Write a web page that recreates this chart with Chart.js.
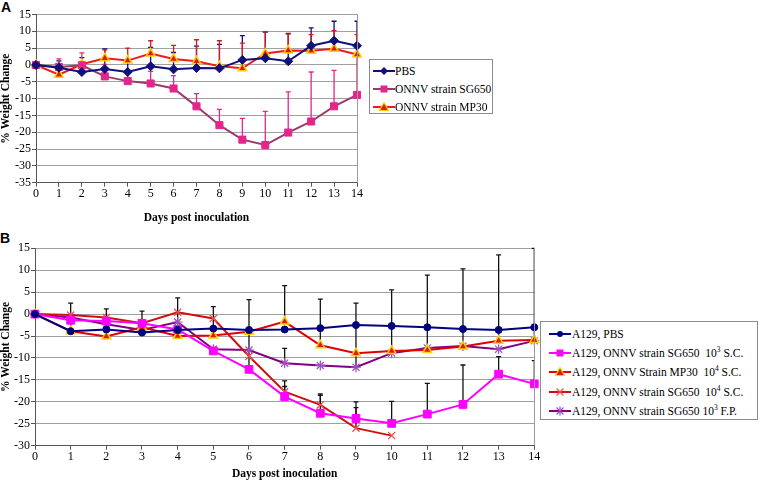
<!DOCTYPE html>
<html><head><meta charset="utf-8">
<script src="https://cdn.jsdelivr.net/npm/chart.js@4.4.1/dist/chart.umd.min.js"></script>
<style>
html,body{margin:0;padding:0;background:#fff;width:759px;height:481px;overflow:hidden;position:relative;font-family:'Liberation Serif','Times New Roman',serif;}
canvas{position:absolute;}
.panel{position:absolute;font-family:'Liberation Sans',Arial,sans-serif;font-weight:bold;font-size:14px;line-height:14px;color:#000;}
.legend{position:absolute;border:1px solid #8c8c8c;background:#fff;box-sizing:border-box;}
.row{position:absolute;height:18px;line-height:18px;white-space:nowrap;font-size:11.5px;color:#000;}
.row svg{position:absolute;top:4px;}
.row span.t{position:absolute;}
sup{font-size:7.5px;vertical-align:5px;line-height:0;}
</style></head><body>
<div class="panel" style="left:1px;top:0px;">A</div>
<div class="panel" style="left:0px;top:231px;">B</div>
<canvas id="cA" width="370" height="225" style="left:0;top:0;"></canvas>
<canvas id="cB" width="545" height="253" style="left:0;top:228px;"></canvas>
<div id="legA" class="legend" style="left:369px;top:59px;width:124px;height:55px;"></div>
<div id="legB" class="legend" style="left:540px;top:321px;width:218px;height:99px;"></div>
<script>
// ---------- DATA ----------
const days = ['0','1','2','3','4','5','6','7','8','9','10','11','12','13','14'];
const yTicksA = [15,10,5,0,-5,-10,-15,-20,-25,-30,-35];
const yTicksB = [15,10,5,0,-5,-10,-15,-20,-25,-30];

// Panel A
const namesA = ['PBS','ONNV strain SG650','ONNV strain MP30'];
const pbsA     = [0,-0.8,-2.1,-1.2,-2.1,-0.4,-1.3,-0.9,-1.0,1.5,2.0,1.1,5.7,7.2,5.7];
const pbsAErr  = [null,2.0,4.3,6.0,3.0,5.6,5.0,6.5,7.1,7.2,7.8,8.3,5.3,5.8,7.3];
const sg650A   = [0,-0.6,-0.1,-3.4,-4.8,-5.5,-7.0,-12.3,-17.9,-22.2,-23.8,-20.1,-16.8,-12.3,-8.9];
const sg650AErr= [null,2.4,3.7,3.6,2.8,3.6,3.8,3.8,4.7,6.3,10.0,12.1,14.7,10.7,12.0];
const mp30A    = [0,-2.9,0.2,2.0,1.3,3.4,1.8,1.1,-0.4,-1.0,3.4,4.3,4.2,4.8,3.1];
const mp30AErr = [null,null,null,2.5,3.7,3.8,4.0,6.4,7.6,7.5,6.5,4.9,4.8,5.4,5.9];

// Panel B
const namesB = ['A129, PBS','A129, ONNV strain SG650  10^3 S.C.','A129, ONNV Strain MP30  10^4 S.C.','A129, ONNV strain SG650  10^4 S.C.','A129, ONNV strain SG650 10^3 F.P.'];
const pbsB     = [0,-3.9,-3.5,-4.2,-3.6,-3.3,-3.6,-3.5,-3.2,-2.5,-2.7,-3.0,-3.4,-3.6,-3.0];
const pbsBErr  = [null,6.4,4.7,4.9,7.3,null,null,null,null,null,null,null,null,null,null];
const sg3B     = [0,-1.4,-1.6,-2.1,-3.5,-8.4,-12.6,-18.8,-22.6,-23.8,-24.9,-22.8,-20.6,-13.7,-15.9];
const sg3BErr  = [null,null,null,null,null,null,15.9,2.3,4.1,3.8,5.0,7.0,9.0,4.0,5.3];
const mp30B    = [0,-3.9,-5.1,-3.0,-5.0,-4.9,-4.0,-1.7,-7.1,-8.9,-8.4,-8.2,-7.4,-6.1,-5.9];
const mp30BErr = [null,null,null,null,null,6.6,null,8.2,10.5,null,null,17.1,17.7,19.6,20.9];
const sg4B     = [0,-0.2,-0.8,-2.1,0.4,-1.0,-9.6,-17.7,-20.7,-26.0,-27.7];
const sg4BErr  = [null,null,null,null,null,null,null,2.5,2.5,4.7,null];
const fpB      = [0,-0.8,-2.3,-3.6,-1.8,-8.0,-8.2,-11.2,-11.7,-12.1,-8.9,-7.7,-7.3,-8.0,-6.1];
const fpBErr   = [null,null,null,null,null,null,null,3.4,null,14.6,14.4,null,null,null,null];

// ---------- STYLE ----------
const FONT = "'Liberation Serif','Times New Roman',serif";
Chart.defaults.font.family = FONT;
Chart.defaults.color = '#000';

const errorBars = {
  id:'errorBars',
  beforeDatasetsDraw(chart){
    const {ctx, chartArea:a, scales:{x,y}} = chart;
    ctx.save();
    ctx.beginPath(); ctx.rect(a.left, a.top-2, a.right-a.left, a.bottom-a.top+4); ctx.clip();
    chart.data.datasets.forEach(ds=>{
      if(!ds.errPlus) return;
      ctx.strokeStyle = ds.errColor; ctx.lineWidth = 1.3;
      ds.errPlus.forEach((e,j)=>{
        const v = ds.data[j];
        if(e==null||v==null) return;
        const px = x.getPixelForValue(j), p0 = y.getPixelForValue(v), p1 = y.getPixelForValue(v+e);
        ctx.beginPath(); ctx.moveTo(px,p0); ctx.lineTo(px,p1);
        ctx.moveTo(px-2.5,p1); ctx.lineTo(px+2.5,p1); ctx.stroke();
      });
    });
    ctx.restore();
  }
};
const frame = {
  id:'frame',
  afterDraw(chart){
    const {ctx, chartArea:a} = chart;
    ctx.save(); ctx.strokeStyle='#9a9a9a'; ctx.lineWidth=1;
    const xr = Math.round(a.right)+0.5;
    ctx.beginPath(); ctx.moveTo(xr,a.top); ctx.lineTo(xr,a.bottom); ctx.stroke();
    ctx.restore();
  }
};

function makeOptions(ticks, padTop, padRight, yWidth, xHeight){
  return {
    responsive:false, animation:false, devicePixelRatio:1,
    layout:{padding:{left:0, top:padTop, right:padRight, bottom:0}},
    plugins:{legend:{display:false}, tooltip:{enabled:false}},
    elements:{line:{tension:0, borderWidth:2}},
    scales:{
      x:{
        grid:{display:true, drawOnChartArea:false, tickLength:4, tickColor:'#555'},
        border:{color:'#555', width:1},
        ticks:{font:{size:12, family:FONT}, maxRotation:0, autoSkip:false, padding:0},
        title:{display:true, text:'Days post inoculation', font:{size:11.5, weight:'bold', lineHeight:1.2, family:FONT}, padding:{top:0,bottom:0}},
        afterFit(s){ s.height = xHeight; }
      },
      y:{
        min: ticks[ticks.length-1], max: ticks[0],
        afterBuildTicks(s){ s.ticks = ticks.map(v=>({value:v})); },
        grid:{color:'#a0a0a0', lineWidth:1, tickLength:4, tickColor:'#555'},
        border:{color:'#555', width:1},
        ticks:{font:{size:12, family:FONT}, padding:1, autoSkip:false},
        title:{display:true, text:'% Weight Change', font:{size:11.5, weight:'bold', lineHeight:1, family:FONT}, padding:0},
        afterFit(s){ s.width = yWidth; }
      }
    }
  };
}

const triFill = '#E01818', triEdge = '#FFD000';

new Chart(document.getElementById('cA'), {
  type:'line',
  data:{labels:days, datasets:[
    {label:namesA[0], data:pbsA, errPlus:pbsAErr, errColor:'#10107A', borderColor:'#10107A', pointStyle:'rectRot', pointRadius:4.5, pointBackgroundColor:'#10107A', pointBorderColor:'#10107A', pointBorderWidth:1},
    {label:namesA[1], data:sg650A, errPlus:sg650AErr, errColor:'#E4268C', borderColor:'#9C386C', pointStyle:'rect', pointRadius:5, pointBackgroundColor:'#E4268C', pointBorderColor:'#E4268C', pointBorderWidth:1},
    {label:namesA[2], data:mp30A, errPlus:mp30AErr, errColor:'#D41A1A', borderColor:'#F01A1A', pointStyle:'triangle', pointRadius:5, pointBackgroundColor:triFill, pointBorderColor:triEdge, pointBorderWidth:1.5}
  ]},
  options: makeOptions(yTicksA, 14.5, 13, 36, 42.3),
  plugins:[errorBars, frame]
});

new Chart(document.getElementById('cB'), {
  type:'line',
  data:{labels:days, datasets:[
    {label:namesB[0], data:pbsB, errPlus:pbsBErr, errColor:'#111', borderColor:'#000080', pointStyle:'circle', pointRadius:3.5, pointBackgroundColor:'#000080', pointBorderColor:'#000080', pointBorderWidth:1},
    {label:namesB[1], data:sg3B, errPlus:sg3BErr, errColor:'#111', borderColor:'#FF00FF', pointStyle:'rect', pointRadius:5.5, pointBackgroundColor:'#FF00FF', pointBorderColor:'#FF00FF', pointBorderWidth:1},
    {label:namesB[2], data:mp30B, errPlus:mp30BErr, errColor:'#111', borderColor:'#E00000', pointStyle:'triangle', pointRadius:5, pointBackgroundColor:triFill, pointBorderColor:triEdge, pointBorderWidth:1.5},
    {label:namesB[3], data:sg4B, errPlus:sg4BErr, errColor:'#111', borderColor:'#D01010', pointStyle:'crossRot', pointRadius:5, pointBackgroundColor:'#E85050', pointBorderColor:'#E85050', pointBorderWidth:1.3},
    {label:namesB[4], data:fpB, errPlus:fpBErr, errColor:'#111', borderColor:'#800080', pointStyle:'star', pointRadius:5, pointBackgroundColor:'#A050C0', pointBorderColor:'#A050C0', pointBorderWidth:1.2}
  ]},
  options: makeOptions(yTicksB, 20.3, 10.7, 35, 35.3),
  plugins:[errorBars, frame]
});

// ---------- LEGENDS ----------
function marker(style, fill, edge){
  const cx=11, cy=5;
  switch(style){
    case 'rectRot': return `<polygon points="${cx},${cy-4} ${cx+4},${cy} ${cx},${cy+4} ${cx-4},${cy}" fill="${fill}"/>`;
    case 'rect': return `<rect x="${cx-3.5}" y="${cy-3.5}" width="7" height="7" fill="${fill}"/>`;
    case 'triangle': return `<polygon points="${cx},${cy-4.5} ${cx+4.5},${cy+3.5} ${cx-4.5},${cy+3.5}" fill="${fill}" stroke="${edge}" stroke-width="1.2"/>`;
    case 'circle': return `<circle cx="${cx}" cy="${cy}" r="3" fill="${fill}"/>`;
    case 'crossRot': return `<path d="M${cx-3.5},${cy-3.5}L${cx+3.5},${cy+3.5}M${cx+3.5},${cy-3.5}L${cx-3.5},${cy+3.5}" stroke="${edge}" stroke-width="1.2"/>`;
    case 'star': return `<path d="M${cx-3.5},${cy-3.5}L${cx+3.5},${cy+3.5}M${cx+3.5},${cy-3.5}L${cx-3.5},${cy+3.5}M${cx},${cy-4.5}L${cx},${cy+4.5}" stroke="${edge}" stroke-width="1.2"/>`;
  }
  return '';
}
function fmt(s){ return s.replace(/  /g,'&nbsp; ').replace(/10\^(\d)/g,'10<sup>$1</sup>'); }
function buildLegend(el, names, styles, rowCenters, swLeft, txtLeft){
  el.innerHTML = names.map((n,i)=>{
    const st = styles[i];
    return `<div class="row" style="top:${rowCenters[i]-9}px;left:0;width:100%;">
      <svg width="22" height="10" style="left:${swLeft}px"><line x1="0" y1="5" x2="22" y2="5" stroke="${st.line}" stroke-width="2"/>${marker(st.ps, st.fill, st.edge)}</svg>
      <span class="t" style="left:${txtLeft}px">${fmt(n)}</span></div>`;
  }).join('');
}
buildLegend(document.getElementById('legA'), namesA, [
  {line:'#10107A', ps:'rectRot', fill:'#10107A', edge:'#10107A'},
  {line:'#9C386C', ps:'rect', fill:'#E4268C', edge:'#E4268C'},
  {line:'#F01A1A', ps:'triangle', fill:triFill, edge:triEdge}
], [11,29,47], 3, 25);
buildLegend(document.getElementById('legB'), namesB, [
  {line:'#000080', ps:'circle', fill:'#000080', edge:'#000080'},
  {line:'#FF00FF', ps:'rect', fill:'#FF00FF', edge:'#FF00FF'},
  {line:'#E00000', ps:'triangle', fill:triFill, edge:triEdge},
  {line:'#D01010', ps:'crossRot', fill:'#E85050', edge:'#E85050'},
  {line:'#800080', ps:'star', fill:'#A050C0', edge:'#A050C0'}
], [12,31,50,69.5,88.5], 8, 31);
</script>
</body></html>
